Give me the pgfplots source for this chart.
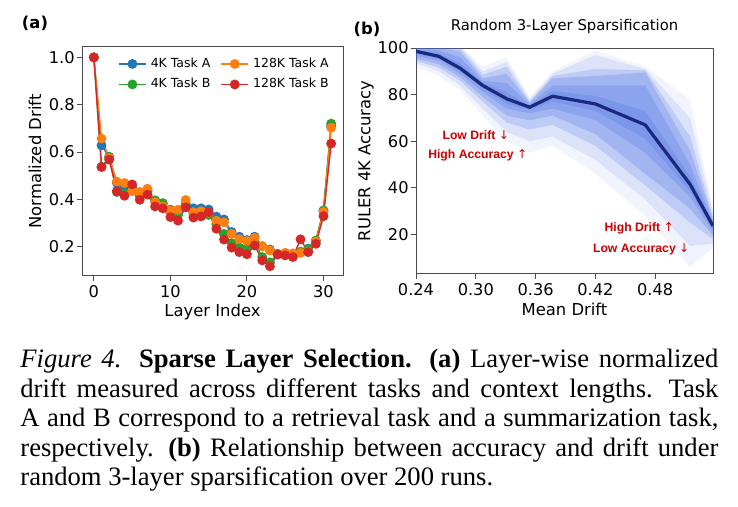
\documentclass[border=0pt]{standalone}
\usepackage{fontspec}
\setmainfont{Liberation Serif}
\newfontfamily\dejavu{DejaVu Sans}
\newfontfamily\arial{Liberation Sans}
\usepackage{pgfplots}
\usepackage{pgfplotstable}
\pgfplotsset{compat=1.18}
\definecolor{cA}{HTML}{1F77B4}
\definecolor{cB}{HTML}{FF7F0E}
\definecolor{cC}{HTML}{2CA02C}
\definecolor{cD}{HTML}{D62728}
\definecolor{band}{RGB}{65,105,225}
\definecolor{meanc}{RGB}{26,40,125}
\definecolor{annot}{RGB}{204,0,0}
\definecolor{spine}{gray}{0.3}
\newcommand{\tickfont}{\dejavu\fontsize{8.1}{10}\selectfont}
\newcommand{\labfont}{\dejavu\fontsize{8.2}{10}\selectfont}
\newcommand{\annfont}{\arial\bfseries\fontsize{6.1}{7}\selectfont}
\newcommand{\up}{{\dejavu\mdseries ↑}}
\newcommand{\dn}{{\dejavu\mdseries ↓}}
\pgfplotstableread{
L  a4     a128   b4     b128
0  1.000  1.000  1.000  1.000
1  0.628  0.657  0.537  0.537
2  0.580  0.575  0.579  0.568
3  0.470  0.475  0.431  0.435
4  0.455  0.469  0.424  0.415
5  0.452  0.435  0.459  0.463
6  0.420  0.432  0.414  0.398
7  0.437  0.445  0.440  0.420
8  0.395  0.388  0.395  0.370
9  0.381  0.370  0.384  0.362
10 0.356  0.353  0.356  0.325
11 0.345  0.356  0.334  0.310
12 0.378  0.397  0.381  0.366
13 0.362  0.346  0.339  0.323
14 0.362  0.350  0.340  0.328
15 0.357  0.343  0.334  0.345
16 0.327  0.310  0.296  0.276
17 0.315  0.303  0.254  0.230
18 0.262  0.254  0.215  0.196
19 0.242  0.232  0.196  0.177
20 0.228  0.224  0.192  0.168
21 0.242  0.237  0.220  0.205
22 0.202  0.202  0.156  0.142
23 0.188  0.184  0.134  0.117
24 0.170  0.168  0.168  0.167
25 0.168  0.174  0.166  0.163
26 0.166  0.172  0.166  0.156
27 0.178  0.174  0.178  0.231
28 0.192  0.180  0.190  0.177
29 0.224  0.222  0.226  0.212
30 0.352  0.347  0.353  0.329
31 0.710  0.703  0.720  0.636
}\drift
\pgfplotsset{
  common/.style={
    scale only axis,
    tick align=outside, tick pos=left, major tick length=2.5pt,
    axis line style={spine, line width=0.5pt}, tick style={spine, line width=0.5pt},
    tick label style={font=\tickfont, inner sep=1pt},
    xticklabel style={yshift=-1pt},
    label style={font=\labfont},
  }
}
\begin{document}
\begin{tikzpicture}
\useasboundingbox (0,0) rectangle (369pt,-253.5pt);
\begin{axis}[common, at={(41pt,-138pt)}, anchor=south west,
  width=130.5pt, height=114.5pt,
  xmin=-1.55, xmax=32.55, ymin=0.076, ymax=1.044,
  xtick={0,10,20,30}, xticklabels={0,10,20,30},
  ytick={0.2,0.4,0.6,0.8,1.0}, yticklabels={0.2,0.4,0.6,0.8,1.0},
  xlabel={Layer Index}, ylabel={Normalized Drift},
  xlabel style={at={(axis description cs:0.5,-0.155)}, anchor=center},
  ylabel style={at={(axis description cs:-0.18,0.5)}, anchor=center},
  legend columns=2, transpose legend,
  legend style={at={(0.985,0.99)}, anchor=north east, draw=none, fill=none,
    font=\dejavu\fontsize{6.25}{7.5}\selectfont, row sep=0pt,
    /tikz/every even column/.append style={column sep=3pt}},
  legend image code/.code={\draw[mark repeat=2,mark phase=2] plot coordinates {(0cm,0cm)(0.24cm,0cm)(0.48cm,0cm)};},
  every axis plot/.append style={line width=0.7pt, mark=*, mark size=2.1pt},
]
\addplot[cA, mark options={fill=cA, draw=cA}] table[x=L, y=a4] {\drift};
\addlegendentry{4K Task A}
\addplot[cC, mark options={fill=cC, draw=cC}] table[x=L, y=b4] {\drift};
\addlegendentry{4K Task B}
\addplot[cB, mark options={fill=cB, draw=cB}] table[x=L, y=a128] {\drift};
\addlegendentry{128K Task A}
\addplot[cD, mark options={fill=cD, draw=cD}] table[x=L, y=b128] {\drift};
\addlegendentry{128K Task B}
\end{axis}
\begin{axis}[common, at={(208pt,-137pt)}, anchor=south west,
  width=148.5pt, height=113pt,
  xmin=0.24, xmax=0.538, ymin=3, ymax=100,
  xtick={0.24,0.30,0.36,0.42,0.48}, xticklabels={0.24,0.30,0.36,0.42,0.48},
  ytick={20,40,60,80,100}, yticklabels={20,40,60,80,100},
  xlabel={Mean Drift}, ylabel={RULER 4K Accuracy},
  xlabel style={at={(axis description cs:0.5,-0.158)}, anchor=center},
  ylabel style={at={(axis description cs:-0.168,0.5)}, anchor=center},
  title={Random 3-Layer Sparsification},
  title style={font=\dejavu\fontsize{7.4}{9}\selectfont, at={(0.5,1)}, anchor=base, inner sep=0pt, yshift=2.8pt},
  clip=true,
]
\addplot[fill=band, fill opacity=0.07, draw=none, forget plot] coordinates {
(0.240,101)(0.263,101)(0.284,101)(0.307,92)(0.331,96)(0.354,79)(0.377,90)(0.420,99)(0.470,92)(0.515,78)(0.538,31)
(0.538,14)(0.515,6)(0.470,28)(0.420,46)(0.377,58)(0.354,55)(0.331,60)(0.307,71)(0.284,82)(0.263,88)(0.240,92)};
\addplot[fill=band, fill opacity=0.12, draw=none, forget plot] coordinates {
(0.240,101)(0.263,101)(0.284,101)(0.307,90)(0.331,94)(0.354,78)(0.377,89)(0.420,97)(0.470,91)(0.515,70)(0.538,29)
(0.538,16)(0.515,15)(0.470,35)(0.420,52)(0.377,62)(0.354,60)(0.331,64)(0.307,74)(0.284,84)(0.263,90)(0.240,93.5)};
\addplot[fill=band, fill opacity=0.2, draw=none, forget plot] coordinates {
(0.240,100.5)(0.263,100.5)(0.284,100)(0.307,88.5)(0.331,92)(0.354,77)(0.377,88)(0.420,91)(0.470,90.5)(0.515,62)(0.538,27.5)
(0.538,18)(0.515,25)(0.470,41)(0.420,58)(0.377,67)(0.354,65)(0.331,68)(0.307,77)(0.284,86)(0.263,91.5)(0.240,94.5)};
\addplot[fill=band, fill opacity=0.22, draw=none, forget plot] coordinates {
(0.240,100)(0.263,100)(0.284,98.5)(0.307,87)(0.331,89)(0.354,76.5)(0.377,87)(0.420,88)(0.470,89.5)(0.515,56)(0.538,26.5)
(0.538,19.5)(0.515,31)(0.470,46)(0.420,63)(0.377,71)(0.354,69)(0.331,71)(0.307,79)(0.284,87.5)(0.263,93)(0.240,95.5)};
\addplot[fill=band, fill opacity=0.22, draw=none, forget plot] coordinates {
(0.240,99.5)(0.263,99)(0.284,96)(0.307,86)(0.331,85)(0.354,75.8)(0.377,84)(0.420,84)(0.470,84)(0.515,50)(0.538,25.5)
(0.538,21)(0.515,36)(0.470,55)(0.420,69)(0.377,74)(0.354,72)(0.331,74)(0.307,81)(0.284,89)(0.263,94.5)(0.240,96.5)};
\addplot[fill=band, fill opacity=0.22, draw=none, forget plot] coordinates {
(0.240,99.2)(0.263,97.8)(0.284,93.5)(0.307,85)(0.331,81)(0.354,75.2)(0.377,81.5)(0.420,79.5)(0.470,73)(0.515,45)(0.538,24.8)
(0.538,22.5)(0.515,38.5)(0.470,61)(0.420,73)(0.377,77)(0.354,73.5)(0.331,76)(0.307,82.5)(0.284,90)(0.263,95.5)(0.240,97.5)};
\addplot[meanc, line width=1.6pt] coordinates {
(0.240,98.6)(0.263,96.4)(0.284,91.4)(0.307,83.9)(0.331,78.2)(0.354,74.6)(0.377,79.3)(0.420,76.0)(0.470,67.0)(0.515,41.5)(0.538,23.6)};
\node[font=\annfont, text=annot] at (axis cs:0.300,62.6) {Low Drift \dn};
\node[font=\annfont, text=annot] at (axis cs:0.302,54.1) {High Accuracy \up};
\node[font=\annfont, text=annot] at (axis cs:0.464,22.4) {High Drift \up};
\node[font=\annfont, text=annot] at (axis cs:0.466,13.8) {Low Accuracy \dn};
\end{axis}
\node[font=\dejavu\bfseries\fontsize{8.2}{10}\selectfont] at (17.5pt,-11.5pt) {(a)};
\node[font=\dejavu\bfseries\fontsize{8.2}{10}\selectfont] at (183.5pt,-14.5pt) {(b)};
\node[anchor=north west, inner sep=0pt, text width=349pt, align=justify,
  font=\fontsize{13.3}{14.7}\selectfont\frenchspacing] at (10pt,-174.5pt)
  {\textit{Figure 4.}\hspace{0.3em} \textbf{Sparse Layer Selection.}\hspace{0.3em} \textbf{(a)} Layer-wise normalized\linebreak
  drift measured across different tasks and context lengths.\hspace{0.2em} Task\linebreak
  A and B correspond to a retrieval task and a summarization task,\linebreak
  respectively.\hspace{0.2em} \textbf{(b)} Relationship between accuracy and drift under\linebreak
  random 3-layer sparsification over 200 runs.};
\end{tikzpicture}
\end{document}
